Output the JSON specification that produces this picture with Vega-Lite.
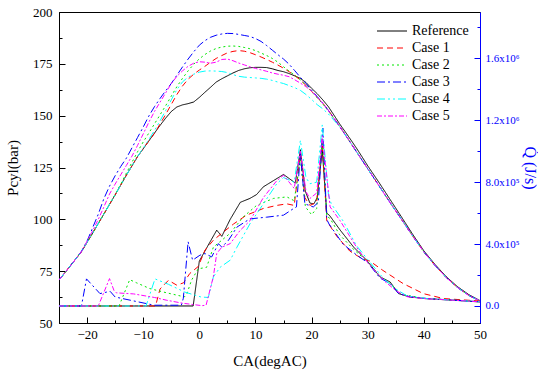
{
  "$schema": "https://vega.github.io/schema/vega-lite/v6.json",
  "autosize": {"type": "none"},
  "padding": {"left": 59, "top": 12, "right": 58, "bottom": 48},
  "width": 421,
  "height": 311,
  "background": "white",
  "config": {
    "font": "Liberation Serif",
    "view": {"stroke": "black", "strokeWidth": 1},
    "axis": {"grid": false, "labelFont": "Liberation Serif", "titleFont": "Liberation Serif", "labelOverlap": false, "labelFlush": false},
    "legend": {
      "orient": "none", "legendX": 326, "legendY": 12, "title": null,
      "symbolType": "M-3,0H3", "symbolSize": 100, "symbolStrokeWidth": 1,
      "labelFont": "Liberation Serif", "labelFontSize": 14, "labelColor": "black",
      "labelOffset": 13, "rowPadding": 3, "padding": 0
    }
  },
  "datasets": {
    "d": [
      {"c":"Reference","k":"P","x":-25,"v":70.7},{"c":"Reference","k":"P","x":-23,"v":77.5},{"c":"Reference","k":"P","x":-21,"v":84.4},{"c":"Reference","k":"P","x":-19,"v":93.4},{"c":"Reference","k":"P","x":-17,"v":102.6},{"c":"Reference","k":"P","x":-15,"v":111.8},{"c":"Reference","k":"P","x":-13,"v":121.3},{"c":"Reference","k":"P","x":-11,"v":130.3},{"c":"Reference","k":"P","x":-9,"v":137.8},{"c":"Reference","k":"P","x":-7,"v":145.3},{"c":"Reference","k":"P","x":-6,"v":148.8},{"c":"Reference","k":"P","x":-5,"v":152},{"c":"Reference","k":"P","x":-4,"v":154.2},{"c":"Reference","k":"P","x":-3,"v":155.2},{"c":"Reference","k":"P","x":-2,"v":155.8},{"c":"Reference","k":"P","x":-1,"v":156.6},{"c":"Reference","k":"P","x":0,"v":158.8},{"c":"Reference","k":"P","x":1,"v":161.3},{"c":"Reference","k":"P","x":2,"v":163.7},{"c":"Reference","k":"P","x":3,"v":166.2},{"c":"Reference","k":"P","x":4,"v":167.8},{"c":"Reference","k":"P","x":5,"v":169.2},{"c":"Reference","k":"P","x":6,"v":170.6},{"c":"Reference","k":"P","x":7,"v":171.8},{"c":"Reference","k":"P","x":8,"v":172.6},{"c":"Reference","k":"P","x":9,"v":173.1},{"c":"Reference","k":"P","x":10,"v":173.3},{"c":"Reference","k":"P","x":11,"v":173.3},{"c":"Reference","k":"P","x":12,"v":173.2},{"c":"Reference","k":"P","x":13,"v":172.6},{"c":"Reference","k":"P","x":14,"v":171.8},{"c":"Reference","k":"P","x":15,"v":171.2},{"c":"Reference","k":"P","x":16,"v":170.3},{"c":"Reference","k":"P","x":17,"v":169.2},{"c":"Reference","k":"P","x":18,"v":168},{"c":"Reference","k":"P","x":19,"v":166},{"c":"Reference","k":"P","x":20,"v":163.2},{"c":"Reference","k":"P","x":21,"v":160.6},{"c":"Reference","k":"P","x":22,"v":157.6},{"c":"Reference","k":"P","x":23,"v":154.3},{"c":"Reference","k":"P","x":24,"v":150.2},{"c":"Reference","k":"P","x":25,"v":146},{"c":"Reference","k":"P","x":26,"v":142.2},{"c":"Reference","k":"P","x":27,"v":138.3},{"c":"Reference","k":"P","x":28,"v":134.3},{"c":"Reference","k":"P","x":29,"v":130.1},{"c":"Reference","k":"P","x":30,"v":125.8},{"c":"Reference","k":"P","x":32,"v":117.8},{"c":"Reference","k":"P","x":34,"v":109.5},{"c":"Reference","k":"P","x":36,"v":101.2},{"c":"Reference","k":"P","x":38,"v":92.8},{"c":"Reference","k":"P","x":40,"v":84.8},{"c":"Reference","k":"P","x":42,"v":78.2},{"c":"Reference","k":"P","x":44,"v":72.3},{"c":"Reference","k":"P","x":46,"v":67.5},{"c":"Reference","k":"P","x":48,"v":63.7},{"c":"Reference","k":"P","x":50,"v":60.8},

      {"c":"Case 1","k":"P","x":-25,"v":70.7},{"c":"Case 1","k":"P","x":-23,"v":77.5},{"c":"Case 1","k":"P","x":-21,"v":84.4},{"c":"Case 1","k":"P","x":-19,"v":93.4},{"c":"Case 1","k":"P","x":-17,"v":102.6},{"c":"Case 1","k":"P","x":-15,"v":111.8},{"c":"Case 1","k":"P","x":-13,"v":121.3},{"c":"Case 1","k":"P","x":-11,"v":130.3},{"c":"Case 1","k":"P","x":-9,"v":137.8},{"c":"Case 1","k":"P","x":-8,"v":141.4},{"c":"Case 1","k":"P","x":-7,"v":146},{"c":"Case 1","k":"P","x":-6,"v":150.6},{"c":"Case 1","k":"P","x":-5,"v":155.4},{"c":"Case 1","k":"P","x":-4,"v":160.2},{"c":"Case 1","k":"P","x":-3,"v":164.3},{"c":"Case 1","k":"P","x":-2,"v":167.6},{"c":"Case 1","k":"P","x":-1,"v":170},{"c":"Case 1","k":"P","x":0,"v":172},{"c":"Case 1","k":"P","x":1,"v":173.8},{"c":"Case 1","k":"P","x":2,"v":175.8},{"c":"Case 1","k":"P","x":3,"v":177.6},{"c":"Case 1","k":"P","x":4,"v":179},{"c":"Case 1","k":"P","x":5,"v":180.3},{"c":"Case 1","k":"P","x":6,"v":181},{"c":"Case 1","k":"P","x":7,"v":181.4},{"c":"Case 1","k":"P","x":8,"v":181.1},{"c":"Case 1","k":"P","x":9,"v":180.4},{"c":"Case 1","k":"P","x":10,"v":179.4},{"c":"Case 1","k":"P","x":11,"v":178.3},{"c":"Case 1","k":"P","x":12,"v":177.1},{"c":"Case 1","k":"P","x":13,"v":175.8},{"c":"Case 1","k":"P","x":14,"v":174.4},{"c":"Case 1","k":"P","x":15,"v":172.9},{"c":"Case 1","k":"P","x":16,"v":171.2},{"c":"Case 1","k":"P","x":17,"v":169.3},{"c":"Case 1","k":"P","x":18,"v":167.2},{"c":"Case 1","k":"P","x":19,"v":164.6},{"c":"Case 1","k":"P","x":20,"v":161.7},{"c":"Case 1","k":"P","x":21,"v":158.8},{"c":"Case 1","k":"P","x":22,"v":156},{"c":"Case 1","k":"P","x":23,"v":152.6},{"c":"Case 1","k":"P","x":24,"v":148.8},{"c":"Case 1","k":"P","x":25,"v":144.8},{"c":"Case 1","k":"P","x":26,"v":140.8},{"c":"Case 1","k":"P","x":27,"v":136.7},{"c":"Case 1","k":"P","x":28,"v":132.6},{"c":"Case 1","k":"P","x":29,"v":128.5},{"c":"Case 1","k":"P","x":30,"v":124.4},{"c":"Case 1","k":"P","x":32,"v":116.2},{"c":"Case 1","k":"P","x":34,"v":108},{"c":"Case 1","k":"P","x":36,"v":100},{"c":"Case 1","k":"P","x":38,"v":92},{"c":"Case 1","k":"P","x":40,"v":84.3},{"c":"Case 1","k":"P","x":42,"v":77.7},{"c":"Case 1","k":"P","x":44,"v":71.9},{"c":"Case 1","k":"P","x":46,"v":67.1},{"c":"Case 1","k":"P","x":48,"v":63.3},{"c":"Case 1","k":"P","x":50,"v":60.6},

      {"c":"Case 2","k":"P","x":-25,"v":70.7},{"c":"Case 2","k":"P","x":-23,"v":77.5},{"c":"Case 2","k":"P","x":-21,"v":84.4},{"c":"Case 2","k":"P","x":-19,"v":93.4},{"c":"Case 2","k":"P","x":-17,"v":102.6},{"c":"Case 2","k":"P","x":-15,"v":112},{"c":"Case 2","k":"P","x":-14,"v":117},{"c":"Case 2","k":"P","x":-13,"v":122.3},{"c":"Case 2","k":"P","x":-12,"v":127.5},{"c":"Case 2","k":"P","x":-11,"v":132.6},{"c":"Case 2","k":"P","x":-10,"v":137.3},{"c":"Case 2","k":"P","x":-9,"v":141.6},{"c":"Case 2","k":"P","x":-8,"v":146},{"c":"Case 2","k":"P","x":-7,"v":150.4},{"c":"Case 2","k":"P","x":-6,"v":154.8},{"c":"Case 2","k":"P","x":-5,"v":159.4},{"c":"Case 2","k":"P","x":-4,"v":164},{"c":"Case 2","k":"P","x":-3,"v":168},{"c":"Case 2","k":"P","x":-2,"v":171.6},{"c":"Case 2","k":"P","x":-1,"v":174.8},{"c":"Case 2","k":"P","x":0,"v":177.4},{"c":"Case 2","k":"P","x":1,"v":179.5},{"c":"Case 2","k":"P","x":2,"v":181.2},{"c":"Case 2","k":"P","x":3,"v":182.4},{"c":"Case 2","k":"P","x":4,"v":183.1},{"c":"Case 2","k":"P","x":5,"v":183.5},{"c":"Case 2","k":"P","x":6,"v":183.6},{"c":"Case 2","k":"P","x":7,"v":183.4},{"c":"Case 2","k":"P","x":8,"v":182.9},{"c":"Case 2","k":"P","x":9,"v":182.3},{"c":"Case 2","k":"P","x":10,"v":181.4},{"c":"Case 2","k":"P","x":11,"v":180.2},{"c":"Case 2","k":"P","x":12,"v":179},{"c":"Case 2","k":"P","x":13,"v":177.6},{"c":"Case 2","k":"P","x":14,"v":175.8},{"c":"Case 2","k":"P","x":15,"v":173.6},{"c":"Case 2","k":"P","x":16,"v":171.5},{"c":"Case 2","k":"P","x":17,"v":169.5},{"c":"Case 2","k":"P","x":18,"v":167.3},{"c":"Case 2","k":"P","x":19,"v":164.6},{"c":"Case 2","k":"P","x":20,"v":161.6},{"c":"Case 2","k":"P","x":21,"v":158.6},{"c":"Case 2","k":"P","x":22,"v":155.6},{"c":"Case 2","k":"P","x":23,"v":152.2},{"c":"Case 2","k":"P","x":24,"v":148.5},{"c":"Case 2","k":"P","x":25,"v":144.8},{"c":"Case 2","k":"P","x":26,"v":140.8},{"c":"Case 2","k":"P","x":27,"v":136.7},{"c":"Case 2","k":"P","x":28,"v":132.6},{"c":"Case 2","k":"P","x":29,"v":128.5},{"c":"Case 2","k":"P","x":30,"v":124.4},{"c":"Case 2","k":"P","x":32,"v":116.2},{"c":"Case 2","k":"P","x":34,"v":108},{"c":"Case 2","k":"P","x":36,"v":100},{"c":"Case 2","k":"P","x":38,"v":92},{"c":"Case 2","k":"P","x":40,"v":84.3},{"c":"Case 2","k":"P","x":42,"v":77.7},{"c":"Case 2","k":"P","x":44,"v":71.9},{"c":"Case 2","k":"P","x":46,"v":67.1},{"c":"Case 2","k":"P","x":48,"v":63.3},{"c":"Case 2","k":"P","x":50,"v":60.6},

      {"c":"Case 3","k":"P","x":-25,"v":70.7},{"c":"Case 3","k":"P","x":-23,"v":77.5},{"c":"Case 3","k":"P","x":-21,"v":84.6},{"c":"Case 3","k":"P","x":-20,"v":89.5},{"c":"Case 3","k":"P","x":-19,"v":96},{"c":"Case 3","k":"P","x":-18,"v":102.5},{"c":"Case 3","k":"P","x":-17,"v":110},{"c":"Case 3","k":"P","x":-16,"v":116},{"c":"Case 3","k":"P","x":-15,"v":121},{"c":"Case 3","k":"P","x":-14,"v":125.5},{"c":"Case 3","k":"P","x":-13,"v":129.5},{"c":"Case 3","k":"P","x":-12,"v":134.5},{"c":"Case 3","k":"P","x":-11,"v":139.5},{"c":"Case 3","k":"P","x":-10,"v":144.5},{"c":"Case 3","k":"P","x":-9,"v":149.8},{"c":"Case 3","k":"P","x":-8,"v":154.3},{"c":"Case 3","k":"P","x":-7,"v":158.3},{"c":"Case 3","k":"P","x":-6,"v":162},{"c":"Case 3","k":"P","x":-5,"v":165.5},{"c":"Case 3","k":"P","x":-4,"v":169.5},{"c":"Case 3","k":"P","x":-3,"v":173.5},{"c":"Case 3","k":"P","x":-2,"v":177.3},{"c":"Case 3","k":"P","x":-1,"v":180.8},{"c":"Case 3","k":"P","x":0,"v":184},{"c":"Case 3","k":"P","x":1,"v":186.2},{"c":"Case 3","k":"P","x":2,"v":187.8},{"c":"Case 3","k":"P","x":3,"v":188.8},{"c":"Case 3","k":"P","x":4,"v":189.4},{"c":"Case 3","k":"P","x":5,"v":189.7},{"c":"Case 3","k":"P","x":6,"v":189.6},{"c":"Case 3","k":"P","x":7,"v":189.2},{"c":"Case 3","k":"P","x":8,"v":188.7},{"c":"Case 3","k":"P","x":9,"v":188.2},{"c":"Case 3","k":"P","x":10,"v":187.2},{"c":"Case 3","k":"P","x":11,"v":185.8},{"c":"Case 3","k":"P","x":12,"v":183.8},{"c":"Case 3","k":"P","x":13,"v":181.6},{"c":"Case 3","k":"P","x":14,"v":179.4},{"c":"Case 3","k":"P","x":15,"v":177.3},{"c":"Case 3","k":"P","x":16,"v":174.8},{"c":"Case 3","k":"P","x":17,"v":171.7},{"c":"Case 3","k":"P","x":18,"v":168.5},{"c":"Case 3","k":"P","x":19,"v":165.5},{"c":"Case 3","k":"P","x":20,"v":162.3},{"c":"Case 3","k":"P","x":21,"v":159.2},{"c":"Case 3","k":"P","x":22,"v":156},{"c":"Case 3","k":"P","x":23,"v":152.5},{"c":"Case 3","k":"P","x":24,"v":148.6},{"c":"Case 3","k":"P","x":25,"v":144.8},{"c":"Case 3","k":"P","x":26,"v":140.8},{"c":"Case 3","k":"P","x":27,"v":136.7},{"c":"Case 3","k":"P","x":28,"v":132.6},{"c":"Case 3","k":"P","x":29,"v":128.5},{"c":"Case 3","k":"P","x":30,"v":124.4},{"c":"Case 3","k":"P","x":32,"v":116.2},{"c":"Case 3","k":"P","x":34,"v":108},{"c":"Case 3","k":"P","x":36,"v":100},{"c":"Case 3","k":"P","x":38,"v":92},{"c":"Case 3","k":"P","x":40,"v":84.3},{"c":"Case 3","k":"P","x":42,"v":77.7},{"c":"Case 3","k":"P","x":44,"v":71.9},{"c":"Case 3","k":"P","x":46,"v":67.1},{"c":"Case 3","k":"P","x":48,"v":63.3},{"c":"Case 3","k":"P","x":50,"v":60.6},

      {"c":"Case 4","k":"P","x":-25,"v":70.7},{"c":"Case 4","k":"P","x":-23,"v":77.5},{"c":"Case 4","k":"P","x":-21,"v":84.4},{"c":"Case 4","k":"P","x":-19,"v":93.4},{"c":"Case 4","k":"P","x":-17,"v":102.6},{"c":"Case 4","k":"P","x":-15,"v":111.8},{"c":"Case 4","k":"P","x":-13,"v":121.3},{"c":"Case 4","k":"P","x":-11,"v":130.3},{"c":"Case 4","k":"P","x":-10,"v":134.3},{"c":"Case 4","k":"P","x":-9,"v":138.5},{"c":"Case 4","k":"P","x":-8,"v":142.8},{"c":"Case 4","k":"P","x":-7,"v":147.5},{"c":"Case 4","k":"P","x":-6,"v":152.5},{"c":"Case 4","k":"P","x":-5,"v":157.6},{"c":"Case 4","k":"P","x":-4,"v":162.6},{"c":"Case 4","k":"P","x":-3,"v":166.3},{"c":"Case 4","k":"P","x":-2,"v":168.6},{"c":"Case 4","k":"P","x":-1,"v":170},{"c":"Case 4","k":"P","x":0,"v":171},{"c":"Case 4","k":"P","x":1,"v":171.5},{"c":"Case 4","k":"P","x":2,"v":171.6},{"c":"Case 4","k":"P","x":3,"v":171.5},{"c":"Case 4","k":"P","x":4,"v":171.3},{"c":"Case 4","k":"P","x":5,"v":170.8},{"c":"Case 4","k":"P","x":6,"v":169.8},{"c":"Case 4","k":"P","x":7,"v":169},{"c":"Case 4","k":"P","x":8,"v":168.6},{"c":"Case 4","k":"P","x":9,"v":168.4},{"c":"Case 4","k":"P","x":10,"v":168.2},{"c":"Case 4","k":"P","x":11,"v":168},{"c":"Case 4","k":"P","x":12,"v":167.6},{"c":"Case 4","k":"P","x":13,"v":167},{"c":"Case 4","k":"P","x":14,"v":166.2},{"c":"Case 4","k":"P","x":15,"v":165.5},{"c":"Case 4","k":"P","x":16,"v":164.5},{"c":"Case 4","k":"P","x":17,"v":163.5},{"c":"Case 4","k":"P","x":18,"v":162.2},{"c":"Case 4","k":"P","x":19,"v":160.2},{"c":"Case 4","k":"P","x":20,"v":157.8},{"c":"Case 4","k":"P","x":21,"v":155.3},{"c":"Case 4","k":"P","x":22,"v":153.3},{"c":"Case 4","k":"P","x":23,"v":150.8},{"c":"Case 4","k":"P","x":24,"v":147.7},{"c":"Case 4","k":"P","x":25,"v":144.8},{"c":"Case 4","k":"P","x":26,"v":140.8},{"c":"Case 4","k":"P","x":27,"v":136.7},{"c":"Case 4","k":"P","x":28,"v":132.6},{"c":"Case 4","k":"P","x":29,"v":128.5},{"c":"Case 4","k":"P","x":30,"v":124.4},{"c":"Case 4","k":"P","x":32,"v":116.2},{"c":"Case 4","k":"P","x":34,"v":108},{"c":"Case 4","k":"P","x":36,"v":100},{"c":"Case 4","k":"P","x":38,"v":92},{"c":"Case 4","k":"P","x":40,"v":84.3},{"c":"Case 4","k":"P","x":42,"v":77.7},{"c":"Case 4","k":"P","x":44,"v":71.9},{"c":"Case 4","k":"P","x":46,"v":67.1},{"c":"Case 4","k":"P","x":48,"v":63.3},{"c":"Case 4","k":"P","x":50,"v":60.6},

      {"c":"Case 5","k":"P","x":-25,"v":70.7},{"c":"Case 5","k":"P","x":-23,"v":77.5},{"c":"Case 5","k":"P","x":-21,"v":84.4},{"c":"Case 5","k":"P","x":-19,"v":94.5},{"c":"Case 5","k":"P","x":-18,"v":100},{"c":"Case 5","k":"P","x":-17,"v":106},{"c":"Case 5","k":"P","x":-16,"v":112.2},{"c":"Case 5","k":"P","x":-15,"v":117},{"c":"Case 5","k":"P","x":-14,"v":121.5},{"c":"Case 5","k":"P","x":-13,"v":126},{"c":"Case 5","k":"P","x":-12,"v":130.5},{"c":"Case 5","k":"P","x":-11,"v":135.7},{"c":"Case 5","k":"P","x":-10,"v":141.2},{"c":"Case 5","k":"P","x":-9,"v":146.8},{"c":"Case 5","k":"P","x":-8,"v":152},{"c":"Case 5","k":"P","x":-7,"v":156.5},{"c":"Case 5","k":"P","x":-6,"v":161},{"c":"Case 5","k":"P","x":-5,"v":165.4},{"c":"Case 5","k":"P","x":-4,"v":169},{"c":"Case 5","k":"P","x":-3,"v":171.6},{"c":"Case 5","k":"P","x":-2,"v":173.8},{"c":"Case 5","k":"P","x":-1,"v":175.3},{"c":"Case 5","k":"P","x":0,"v":176},{"c":"Case 5","k":"P","x":1,"v":175.8},{"c":"Case 5","k":"P","x":2,"v":175.3},{"c":"Case 5","k":"P","x":3,"v":175.8},{"c":"Case 5","k":"P","x":4,"v":177.1},{"c":"Case 5","k":"P","x":5,"v":177.3},{"c":"Case 5","k":"P","x":6,"v":176.5},{"c":"Case 5","k":"P","x":7,"v":175.4},{"c":"Case 5","k":"P","x":8,"v":174.5},{"c":"Case 5","k":"P","x":9,"v":173.6},{"c":"Case 5","k":"P","x":10,"v":172.8},{"c":"Case 5","k":"P","x":11,"v":172.1},{"c":"Case 5","k":"P","x":12,"v":171.4},{"c":"Case 5","k":"P","x":13,"v":170.6},{"c":"Case 5","k":"P","x":14,"v":170},{"c":"Case 5","k":"P","x":15,"v":169.5},{"c":"Case 5","k":"P","x":16,"v":168.8},{"c":"Case 5","k":"P","x":17,"v":167.3},{"c":"Case 5","k":"P","x":18,"v":165.7},{"c":"Case 5","k":"P","x":19,"v":164},{"c":"Case 5","k":"P","x":20,"v":161.8},{"c":"Case 5","k":"P","x":21,"v":159},{"c":"Case 5","k":"P","x":22,"v":156},{"c":"Case 5","k":"P","x":23,"v":152.5},{"c":"Case 5","k":"P","x":24,"v":148.6},{"c":"Case 5","k":"P","x":25,"v":144.8},{"c":"Case 5","k":"P","x":26,"v":140.8},{"c":"Case 5","k":"P","x":27,"v":136.7},{"c":"Case 5","k":"P","x":28,"v":132.6},{"c":"Case 5","k":"P","x":29,"v":128.5},{"c":"Case 5","k":"P","x":30,"v":124.4},{"c":"Case 5","k":"P","x":32,"v":116.2},{"c":"Case 5","k":"P","x":34,"v":108},{"c":"Case 5","k":"P","x":36,"v":100},{"c":"Case 5","k":"P","x":38,"v":92},{"c":"Case 5","k":"P","x":40,"v":84.3},{"c":"Case 5","k":"P","x":42,"v":77.7},{"c":"Case 5","k":"P","x":44,"v":71.9},{"c":"Case 5","k":"P","x":46,"v":67.1},{"c":"Case 5","k":"P","x":48,"v":63.3},{"c":"Case 5","k":"P","x":50,"v":60.6},

      {"c":"Reference","k":"Q","x":-25,"v":0},{"c":"Reference","k":"Q","x":-1.1,"v":0},{"c":"Reference","k":"Q","x":0,"v":290000},{"c":"Reference","k":"Q","x":1.3,"v":375000},{"c":"Reference","k":"Q","x":3.1,"v":490000},{"c":"Reference","k":"Q","x":4.0,"v":450000},{"c":"Reference","k":"Q","x":5.5,"v":560000},{"c":"Reference","k":"Q","x":7.3,"v":670000},{"c":"Reference","k":"Q","x":9.0,"v":695000},{"c":"Reference","k":"Q","x":10.2,"v":720000},{"c":"Reference","k":"Q","x":11.4,"v":770000},{"c":"Reference","k":"Q","x":13.2,"v":810000},{"c":"Reference","k":"Q","x":15.0,"v":850000},{"c":"Reference","k":"Q","x":17.1,"v":795000},{"c":"Reference","k":"Q","x":18.0,"v":1010000},{"c":"Reference","k":"Q","x":18.9,"v":740000},{"c":"Reference","k":"Q","x":19.7,"v":665000},{"c":"Reference","k":"Q","x":20.4,"v":660000},{"c":"Reference","k":"Q","x":21.0,"v":700000},{"c":"Reference","k":"Q","x":21.9,"v":1010000},{"c":"Reference","k":"Q","x":22.7,"v":600000},{"c":"Reference","k":"Q","x":23.2,"v":585000},{"c":"Reference","k":"Q","x":25.1,"v":490000},{"c":"Reference","k":"Q","x":27.5,"v":380000},{"c":"Reference","k":"Q","x":29.8,"v":296000},{"c":"Reference","k":"Q","x":32.2,"v":188000},{"c":"Reference","k":"Q","x":34.0,"v":155000},{"c":"Reference","k":"Q","x":35.5,"v":80000},{"c":"Reference","k":"Q","x":37.5,"v":58000},{"c":"Reference","k":"Q","x":40.5,"v":47000},{"c":"Reference","k":"Q","x":45.3,"v":37000},{"c":"Reference","k":"Q","x":50,"v":26000},

      {"c":"Case 1","k":"Q","x":-25,"v":0},{"c":"Case 1","k":"Q","x":-7.8,"v":0},{"c":"Case 1","k":"Q","x":-7.0,"v":110000},{"c":"Case 1","k":"Q","x":-5.5,"v":166000},{"c":"Case 1","k":"Q","x":-4.0,"v":134000},{"c":"Case 1","k":"Q","x":-2.8,"v":150000},{"c":"Case 1","k":"Q","x":-1.7,"v":210000},{"c":"Case 1","k":"Q","x":-0.2,"v":255000},{"c":"Case 1","k":"Q","x":1.0,"v":360000},{"c":"Case 1","k":"Q","x":2.5,"v":425000},{"c":"Case 1","k":"Q","x":4.0,"v":470000},{"c":"Case 1","k":"Q","x":6.1,"v":530000},{"c":"Case 1","k":"Q","x":8.4,"v":587000},{"c":"Case 1","k":"Q","x":11.4,"v":630000},{"c":"Case 1","k":"Q","x":13.8,"v":650000},{"c":"Case 1","k":"Q","x":15.6,"v":660000},{"c":"Case 1","k":"Q","x":16.9,"v":650000},{"c":"Case 1","k":"Q","x":18.0,"v":980000},{"c":"Case 1","k":"Q","x":18.8,"v":700000},{"c":"Case 1","k":"Q","x":19.7,"v":650000},{"c":"Case 1","k":"Q","x":20.9,"v":670000},{"c":"Case 1","k":"Q","x":21.9,"v":1050000},{"c":"Case 1","k":"Q","x":22.7,"v":550000},{"c":"Case 1","k":"Q","x":24.5,"v":450000},{"c":"Case 1","k":"Q","x":26.8,"v":355000},{"c":"Case 1","k":"Q","x":29,"v":305000},{"c":"Case 1","k":"Q","x":30.4,"v":290000},{"c":"Case 1","k":"Q","x":32.7,"v":230000},{"c":"Case 1","k":"Q","x":36.3,"v":145000},{"c":"Case 1","k":"Q","x":39.9,"v":80000},{"c":"Case 1","k":"Q","x":43.5,"v":48000},{"c":"Case 1","k":"Q","x":50,"v":32000},

      {"c":"Case 2","k":"Q","x":-25,"v":0},{"c":"Case 2","k":"Q","x":-14.3,"v":0},{"c":"Case 2","k":"Q","x":-12.4,"v":170000},{"c":"Case 2","k":"Q","x":-11.2,"v":150000},{"c":"Case 2","k":"Q","x":-8.8,"v":112000},{"c":"Case 2","k":"Q","x":-5.8,"v":85000},{"c":"Case 2","k":"Q","x":-3.4,"v":65000},{"c":"Case 2","k":"Q","x":-2.6,"v":60000},{"c":"Case 2","k":"Q","x":-2.2,"v":80000},{"c":"Case 2","k":"Q","x":-1.4,"v":166000},{"c":"Case 2","k":"Q","x":-0.2,"v":240000},{"c":"Case 2","k":"Q","x":1.3,"v":250000},{"c":"Case 2","k":"Q","x":2.5,"v":380000},{"c":"Case 2","k":"Q","x":4.0,"v":425000},{"c":"Case 2","k":"Q","x":5.5,"v":470000},{"c":"Case 2","k":"Q","x":7.8,"v":575000},{"c":"Case 2","k":"Q","x":10.2,"v":650000},{"c":"Case 2","k":"Q","x":13.2,"v":695000},{"c":"Case 2","k":"Q","x":15.6,"v":705000},{"c":"Case 2","k":"Q","x":16.9,"v":680000},{"c":"Case 2","k":"Q","x":18.0,"v":950000},{"c":"Case 2","k":"Q","x":18.9,"v":640000},{"c":"Case 2","k":"Q","x":20.0,"v":590000},{"c":"Case 2","k":"Q","x":20.9,"v":630000},{"c":"Case 2","k":"Q","x":21.9,"v":1080000},{"c":"Case 2","k":"Q","x":22.7,"v":580000},{"c":"Case 2","k":"Q","x":23.3,"v":565000},{"c":"Case 2","k":"Q","x":25,"v":460000},{"c":"Case 2","k":"Q","x":27.5,"v":365000},{"c":"Case 2","k":"Q","x":30,"v":285000},{"c":"Case 2","k":"Q","x":32.5,"v":180000},{"c":"Case 2","k":"Q","x":34,"v":145000},{"c":"Case 2","k":"Q","x":36,"v":75000},{"c":"Case 2","k":"Q","x":40,"v":50000},{"c":"Case 2","k":"Q","x":45,"v":40000},{"c":"Case 2","k":"Q","x":50,"v":28000},

      {"c":"Case 3","k":"Q","x":-25,"v":0},{"c":"Case 3","k":"Q","x":-21,"v":0},{"c":"Case 3","k":"Q","x":-20.1,"v":175000},{"c":"Case 3","k":"Q","x":-17.7,"v":80000},{"c":"Case 3","k":"Q","x":-15.9,"v":95000},{"c":"Case 3","k":"Q","x":-15,"v":58000},{"c":"Case 3","k":"Q","x":-12,"v":35000},{"c":"Case 3","k":"Q","x":-9,"v":12000},{"c":"Case 3","k":"Q","x":-8,"v":5000},{"c":"Case 3","k":"Q","x":-3.2,"v":5000},{"c":"Case 3","k":"Q","x":-2.85,"v":50000},{"c":"Case 3","k":"Q","x":-2.0,"v":415000},{"c":"Case 3","k":"Q","x":-1.2,"v":296000},{"c":"Case 3","k":"Q","x":0.1,"v":328000},{"c":"Case 3","k":"Q","x":1.0,"v":339000},{"c":"Case 3","k":"Q","x":2.2,"v":317000},{"c":"Case 3","k":"Q","x":3.4,"v":403000},{"c":"Case 3","k":"Q","x":4.0,"v":380000},{"c":"Case 3","k":"Q","x":5.2,"v":425000},{"c":"Case 3","k":"Q","x":6.7,"v":510000},{"c":"Case 3","k":"Q","x":9.0,"v":563000},{"c":"Case 3","k":"Q","x":12,"v":574000},{"c":"Case 3","k":"Q","x":15,"v":587000},{"c":"Case 3","k":"Q","x":16.8,"v":630000},{"c":"Case 3","k":"Q","x":17.3,"v":640000},{"c":"Case 3","k":"Q","x":18.0,"v":985000},{"c":"Case 3","k":"Q","x":18.8,"v":660000},{"c":"Case 3","k":"Q","x":20.3,"v":640000},{"c":"Case 3","k":"Q","x":21.2,"v":670000},{"c":"Case 3","k":"Q","x":22.0,"v":1150000},{"c":"Case 3","k":"Q","x":22.7,"v":560000},{"c":"Case 3","k":"Q","x":23.1,"v":530000},{"c":"Case 3","k":"Q","x":25.6,"v":400000},{"c":"Case 3","k":"Q","x":28,"v":330000},{"c":"Case 3","k":"Q","x":30,"v":280000},{"c":"Case 3","k":"Q","x":32.2,"v":180000},{"c":"Case 3","k":"Q","x":34,"v":145000},{"c":"Case 3","k":"Q","x":35.5,"v":80000},{"c":"Case 3","k":"Q","x":37.5,"v":60000},{"c":"Case 3","k":"Q","x":40.5,"v":48000},{"c":"Case 3","k":"Q","x":45.3,"v":38000},{"c":"Case 3","k":"Q","x":50,"v":27000},

      {"c":"Case 4","k":"Q","x":-25,"v":0},{"c":"Case 4","k":"Q","x":-9.5,"v":0},{"c":"Case 4","k":"Q","x":-7.9,"v":175000},{"c":"Case 4","k":"Q","x":-5.5,"v":140000},{"c":"Case 4","k":"Q","x":-2.6,"v":90000},{"c":"Case 4","k":"Q","x":0.3,"v":58000},{"c":"Case 4","k":"Q","x":1.6,"v":55000},{"c":"Case 4","k":"Q","x":2.5,"v":188000},{"c":"Case 4","k":"Q","x":3.7,"v":250000},{"c":"Case 4","k":"Q","x":5.5,"v":296000},{"c":"Case 4","k":"Q","x":6.7,"v":380000},{"c":"Case 4","k":"Q","x":9,"v":530000},{"c":"Case 4","k":"Q","x":11.4,"v":660000},{"c":"Case 4","k":"Q","x":13.8,"v":790000},{"c":"Case 4","k":"Q","x":15,"v":830000},{"c":"Case 4","k":"Q","x":16.9,"v":800000},{"c":"Case 4","k":"Q","x":18.0,"v":1070000},{"c":"Case 4","k":"Q","x":19.0,"v":830000},{"c":"Case 4","k":"Q","x":19.7,"v":790000},{"c":"Case 4","k":"Q","x":20.9,"v":800000},{"c":"Case 4","k":"Q","x":21.9,"v":1170000},{"c":"Case 4","k":"Q","x":23.0,"v":720000},{"c":"Case 4","k":"Q","x":23.5,"v":660000},{"c":"Case 4","k":"Q","x":25.6,"v":550000},{"c":"Case 4","k":"Q","x":28,"v":390000},{"c":"Case 4","k":"Q","x":30,"v":300000},{"c":"Case 4","k":"Q","x":33,"v":170000},{"c":"Case 4","k":"Q","x":35,"v":110000},{"c":"Case 4","k":"Q","x":37,"v":65000},{"c":"Case 4","k":"Q","x":40,"v":50000},{"c":"Case 4","k":"Q","x":45,"v":38000},{"c":"Case 4","k":"Q","x":50,"v":27000},

      {"c":"Case 5","k":"Q","x":-25,"v":0},{"c":"Case 5","k":"Q","x":-18,"v":0},{"c":"Case 5","k":"Q","x":-16.0,"v":177000},{"c":"Case 5","k":"Q","x":-15.2,"v":100000},{"c":"Case 5","k":"Q","x":-14.8,"v":85000},{"c":"Case 5","k":"Q","x":-11.7,"v":78000},{"c":"Case 5","k":"Q","x":-8,"v":55000},{"c":"Case 5","k":"Q","x":-5.8,"v":37000},{"c":"Case 5","k":"Q","x":-3,"v":18000},{"c":"Case 5","k":"Q","x":0.5,"v":2000},{"c":"Case 5","k":"Q","x":1.2,"v":5000},{"c":"Case 5","k":"Q","x":2.5,"v":190000},{"c":"Case 5","k":"Q","x":3.1,"v":339000},{"c":"Case 5","k":"Q","x":4.0,"v":380000},{"c":"Case 5","k":"Q","x":5.5,"v":403000},{"c":"Case 5","k":"Q","x":7.3,"v":490000},{"c":"Case 5","k":"Q","x":9,"v":550000},{"c":"Case 5","k":"Q","x":11.4,"v":700000},{"c":"Case 5","k":"Q","x":13.8,"v":810000},{"c":"Case 5","k":"Q","x":15,"v":845000},{"c":"Case 5","k":"Q","x":16.9,"v":760000},{"c":"Case 5","k":"Q","x":18.0,"v":1000000},{"c":"Case 5","k":"Q","x":19.0,"v":740000},{"c":"Case 5","k":"Q","x":19.7,"v":695000},{"c":"Case 5","k":"Q","x":20.9,"v":730000},{"c":"Case 5","k":"Q","x":21.9,"v":1100000},{"c":"Case 5","k":"Q","x":23.3,"v":640000},{"c":"Case 5","k":"Q","x":25.1,"v":550000},{"c":"Case 5","k":"Q","x":28,"v":380000},{"c":"Case 5","k":"Q","x":30,"v":280000},{"c":"Case 5","k":"Q","x":33,"v":160000},{"c":"Case 5","k":"Q","x":35,"v":100000},{"c":"Case 5","k":"Q","x":37,"v":60000},{"c":"Case 5","k":"Q","x":40,"v":48000},{"c":"Case 5","k":"Q","x":45,"v":38000},{"c":"Case 5","k":"Q","x":50,"v":27000}
    ]
  },
  "data": {"name": "d"},
  "encoding": {
    "x": {"field": "x", "type": "quantitative",
      "scale": {"domain": [-25, 50], "nice": false, "zero": false},
      "axis": {"title": "CA(degAC)", "titleFontSize": 15, "titleFontWeight": "normal", "titleColor": "black", "titlePadding": 9,
        "values": [-25,-20,-15,-10,-5,0,5,10,15,20,25,30,35,40,45,50],
        "labelExpr": "abs(datum.value) % 10 === 0 ? datum.label : ''",
        "labelFontSize": 13, "labelColor": "black", "labelPadding": 11, "labelBaseline": "top",
        "domainColor": "black", "tickColor": "black",
        "tickSize": {"condition": {"test": "abs(datum.value) % 10 === 0", "value": -6}, "value": -3}}},
    "color": {"field": "c", "type": "nominal",
      "scale": {"domain": ["Reference","Case 1","Case 2","Case 3","Case 4","Case 5"], "range": ["#000000","#FF0000","#00E600","#0000FF","#00FFFF","#FF00FF"]}},
    "strokeDash": {"field": "c", "type": "nominal",
      "scale": {"domain": ["Reference","Case 1","Case 2","Case 3","Case 4","Case 5"], "range": [[1,0],[6,4],[2,3],[8,3,2,3],[8,3,2,3,2,3],[5,2,2,2]]}}
  },
  "layer": [
    {
      "transform": [{"filter": "datum.k === 'P'"}],
      "mark": {"type": "line", "strokeWidth": 1, "clip": true},
      "encoding": {
        "y": {"field": "v", "type": "quantitative",
          "scale": {"domain": [50, 200], "nice": false, "zero": false},
          "axis": {"title": "Pcyl(bar)", "titleFontSize": 15, "titleFontWeight": "normal", "titleColor": "black", "titlePadding": 12,
            "values": [50,62.5,75,87.5,100,112.5,125,137.5,150,162.5,175,187.5,200],
            "labelExpr": "datum.value % 25 === 0 ? datum.label : ''",
            "labelFontSize": 13, "labelColor": "black", "labelPadding": 13,
            "domainColor": "black", "tickColor": "black",
            "tickSize": {"condition": {"test": "datum.value % 25 === 0", "value": -6}, "value": -3}}}
      }
    },
    {
      "transform": [{"filter": "datum.k === 'Q'"}],
      "mark": {"type": "line", "strokeWidth": 1, "clip": true},
      "encoding": {
        "y": {"field": "v", "type": "quantitative",
          "scale": {"domain": [-110000, 1900000], "nice": false, "zero": false},
          "axis": {"orient": "right", "title": "Q̇ (J/s)", "titleFontSize": 16, "titleFontWeight": "normal", "titleColor": "#0000FF", "titlePadding": 2,
            "values": [0,200000,400000,600000,800000,1000000,1200000,1400000,1600000,1800000],
            "labelExpr": "datum.value === 0 ? '0.0' : datum.value % 400000 !== 0 ? '' : datum.value < 1000000 ? format(datum.value/100000, '.1f') + 'x10⁵' : format(datum.value/1000000, '.1f') + 'x10⁶'",
            "labelFontSize": 11, "labelColor": "#0000FF", "labelPadding": 11,
            "domainColor": "#0000FF", "tickColor": "#0000FF",
            "tickSize": {"condition": {"test": "datum.value % 400000 === 0", "value": -6}, "value": -3}}}
      }
    }
  ],
  "resolve": {"scale": {"y": "independent"}}
}
